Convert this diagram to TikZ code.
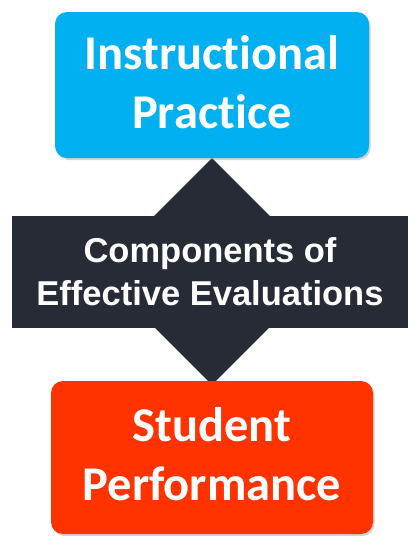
\documentclass[tikz,border=0pt]{standalone}
\usepackage{fontspec}
\usetikzlibrary{shapes.geometric,shadows}
\newfontfamily\boxfont{Carlito}[Ligatures=NoCommon]
\newfontfamily\bandfont{Liberation Sans}
\definecolor{practiceblue}{HTML}{00B0F0}
\definecolor{studentred}{HTML}{FF3300}
\definecolor{bandgray}{HTML}{262B35}
\tikzset{
  topic/.style={rounded corners=12pt,inner sep=0pt,align=center,text=white,text depth=7pt,
    font=\boxfont\bfseries\fontsize{48.5}{59}\selectfont,
    drop shadow={shadow xshift=1.5pt,shadow yshift=-2pt,opacity=.35}},
  band/.style={fill=bandgray,inner sep=0pt,align=center,text=white,
    font=\bandfont\bfseries\fontsize{34.5}{43.5}\selectfont}
}
\begin{document}
\begin{tikzpicture}[x=1pt,y=-1pt]
\useasboundingbox (0,0) rectangle (408,536);
\node[diamond,fill=bandgray,inner sep=0pt,minimum width=227pt,minimum height=227pt](link)at(212,271.5){};
\node[band,minimum width=396pt,minimum height=112pt](comp)at(210,271.5){Components of\\Effective Evaluations};
\node[topic,fill=practiceblue,minimum width=314pt,minimum height=146pt](practice)at(212,85){Instructional\\Practice};
\node[topic,fill=studentred,minimum width=322pt,minimum height=153pt](student)at(212,457.5){Student\\Performance};
\end{tikzpicture}
\end{document}
